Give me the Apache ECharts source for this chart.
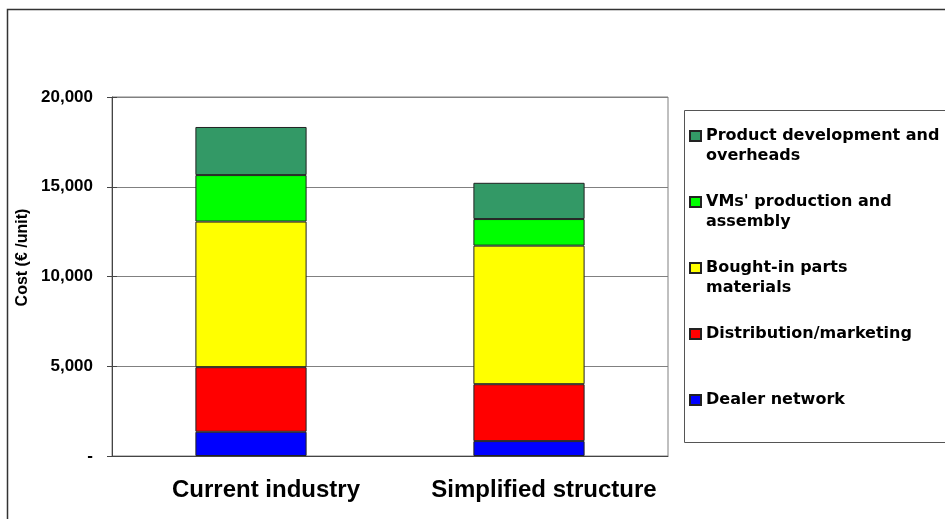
<!DOCTYPE html>
<html>
<head>
<meta charset="utf-8">
<script src="https://cdn.jsdelivr.net/npm/echarts@6/dist/echarts.min.js"></script>
<style>
  html, body { margin: 0; padding: 0; background: #fff; }
  #chart { width: 945px; height: 519px; }
</style>
</head>
<body>
<div id="chart"></div>
<script>
const myChart = echarts.init(document.getElementById('chart'));

// data (cost per unit, €)
const categories = ['Current industry', 'Simplified structure'];
const dealerNetwork = [1350, 830];
const distribution = [3600, 3170];
const boughtIn = [8110, 7720];
const vmsProduction = [2590, 1480];
const productDev = [2680, 2020];

const yTicks = { min: 0, max: 20000, interval: 5000 };

// series names, bottom of the stack first
const names = [
  'Dealer network',
  'Distribution/marketing',
  'Bought-in parts\nmaterials',
  "VMs' production and\nassembly",
  'Product development and\noverheads'
];
const values = [dealerNetwork, distribution, boughtIn, vmsProduction, productDev];
const colors = ['#0000ff', '#ff0000', '#ffff00', '#00ff00', '#339966'];

const labelFont = "'Liberation Sans', Arial, sans-serif";

const option = {
  animation: false,
  grid: {
    left: 112,
    right: 277,
    top: 97,
    bottom: 63,
    show: true,
    borderColor: '#808080',
    borderWidth: 1
  },
  legend: {
    orient: 'vertical',
    left: 689,
    top: 106,
    padding: 0,
    itemGap: 6,
    itemWidth: 11,
    itemHeight: 10,
    icon: 'rect',
    data: names.slice().reverse(),
    // blank lines keep the icon on the first text line and every item equally tall
    formatter: function (name) {
      return name.indexOf('\n') >= 0 ? ' \n' + name : ' \n' + name + '\n ';
    },
    textStyle: {
      fontFamily: "'DejaVu Sans', Verdana, sans-serif",
      fontWeight: 'bold',
      fontSize: 16,
      lineHeight: 20,
      color: '#000'
    }
  },
  xAxis: {
    type: 'category',
    data: categories,
    axisLine: { lineStyle: { color: '#444' } },
    axisTick: { length: 5, lineStyle: { color: '#444' } },
    axisLabel: {
      interval: 0,
      fontFamily: labelFont,
      fontWeight: 'bold',
      fontSize: 24,
      color: '#000',
      margin: 22,
      padding: [0, 0, 0, 30]
    }
  },
  yAxis: [
    {
      type: 'value',
      min: yTicks.min,
      max: yTicks.max,
      interval: yTicks.interval,
      name: 'Cost (€ /unit)',
      nameLocation: 'middle',
      nameRotate: 90,
      nameGap: 80,
      nameTextStyle: {
        fontFamily: labelFont,
        fontWeight: 'bold',
        fontSize: 16,
        color: '#000',
        padding: [0, 0, 0, 38]
      },
      axisLine: { show: true, lineStyle: { color: '#444' } },
      axisTick: { show: true, length: 5, lineStyle: { color: '#444' } },
      splitLine: { lineStyle: { color: '#808080', width: 1 } },
      axisLabel: {
        fontFamily: labelFont,
        fontWeight: 'bold',
        fontSize: 17,
        color: '#000',
        margin: 19,
        formatter: function (v) {
          return v === 0 ? '-' : v.toLocaleString('en-US');
        }
      }
    },
    {
      // inner half of the crossing ticks
      type: 'value',
      position: 'left',
      min: yTicks.min,
      max: yTicks.max,
      interval: yTicks.interval,
      axisLine: { show: false },
      axisTick: { show: true, inside: true, length: 5, lineStyle: { color: '#444' } },
      axisLabel: { show: false },
      splitLine: { show: false }
    }
  ],
  series: names.map(function (n, i) {
    return {
      name: n,
      type: 'bar',
      stack: 'cost',
      barWidth: '40%',
      data: values[i],
      itemStyle: { color: colors[i], borderColor: '#222', borderWidth: 1 }
    };
  }),
  graphic: [
    {
      type: 'rect',
      shape: { x: 7.5, y: 9.5, width: 1000, height: 600 },
      style: { fill: 'none', stroke: '#333', lineWidth: 1.5 },
      silent: true
    },
    {
      type: 'rect',
      shape: { x: 684.5, y: 110.5, width: 300, height: 332 },
      style: { fill: 'none', stroke: '#555', lineWidth: 1 },
      silent: true
    }
  ]
};

myChart.setOption(option);
</script>
</body>
</html>
